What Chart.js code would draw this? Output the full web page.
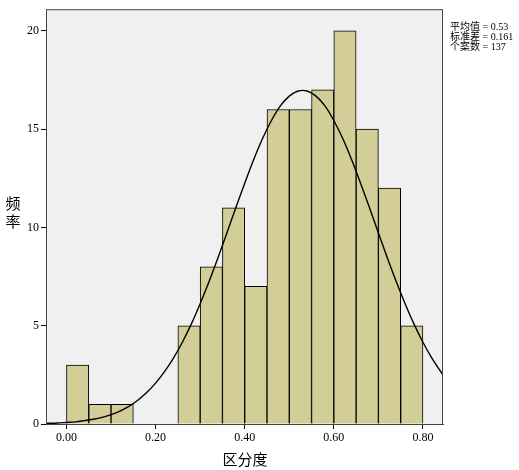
<!DOCTYPE html>
<html>
<head>
<meta charset="utf-8">
<script src="https://cdn.jsdelivr.net/npm/chart.js@4"></script>
<style>
  html, body { margin: 0; padding: 0; background: #fff; }
  #wrap { width: 519px; height: 470px; position: relative; }
</style>
</head>
<body>
<div id="wrap"><canvas id="hist"></canvas></div>
<script>
// bin centres (width 0.05) and counts
const binCenters = [0.025, 0.075, 0.125, 0.175, 0.225, 0.275, 0.325, 0.375, 0.425, 0.475, 0.525, 0.575, 0.625, 0.675, 0.725, 0.775];
const counts     = [3, 1, 1, 0, 0, 5, 8, 11, 7, 16, 16, 17, 20, 15, 12, 5];

// fitted normal curve
const curveX = [-0.046, -0.02, 0.00, 0.02, 0.04, 0.06, 0.08, 0.10, 0.12, 0.14, 0.16, 0.18, 0.20, 0.22, 0.24, 0.26, 0.28, 0.30,
                0.32, 0.34, 0.36, 0.38, 0.40, 0.42, 0.44, 0.46, 0.48, 0.50, 0.52, 0.54, 0.56, 0.58, 0.60, 0.62, 0.64, 0.66,
                0.68, 0.70, 0.72, 0.74, 0.76, 0.78, 0.80, 0.82, 0.84, 0.845];
const curveY = [0.03, 0.05, 0.08, 0.11, 0.17, 0.24, 0.34, 0.48, 0.66, 0.90, 1.21, 1.60, 2.08, 2.66, 3.35, 4.16, 5.08, 6.12,
                7.25, 8.46, 9.72, 11.00, 12.25, 13.44, 14.52, 15.44, 16.18, 16.68, 16.94, 16.94, 16.68, 16.18, 15.44, 14.52, 13.44, 12.25,
                11.00, 9.72, 8.46, 7.25, 6.12, 5.08, 4.16, 3.35, 2.66, 2.50];

const xTicks = [0.0, 0.2, 0.4, 0.6, 0.8];
const yTicks = [0, 5, 10, 15, 20];
const statsText = ['平均值 = 0.53', '标准差 = 0.161', '个案数 = 137'];

const serif = '"Liberation Serif", "Noto Sans CJK SC", serif';
const barFill = '#D3CE97';
const plotBg  = '#F0F0F0';

const frame = {
  id: 'frame',
  beforeDraw(chart) {
    const { ctx, chartArea: a } = chart;
    ctx.save();
    ctx.fillStyle = plotBg;
    ctx.fillRect(a.left, a.top, a.right - a.left, a.bottom - a.top);
    ctx.restore();
  },
  afterDraw(chart) {
    const { ctx, chartArea: a } = chart;
    ctx.save();
    ctx.strokeStyle = '#444';
    ctx.lineWidth = 1;
    ctx.strokeRect(a.left + 0.5, a.top + 0.5, a.right - a.left - 1, a.bottom - a.top);
    // y title, stacked
    ctx.fillStyle = '#000';
    ctx.font = '15px "Noto Sans CJK SC", serif';
    ctx.textAlign = 'center';
    ctx.textBaseline = 'middle';
    ctx.fillText('频', 13, 203);
    ctx.fillText('率', 13, 221);
    // x title
    ctx.fillText('区分度', 245, 459);
    // stats
    ctx.font = '10px ' + serif;
    ctx.textAlign = 'left';
    statsText.forEach((t, i) => ctx.fillText(t, 450, 27 + i * 10));
    ctx.restore();
  }
};

new Chart(document.getElementById('hist'), {
  type: 'bar',
  data: {
    datasets: [
      {
        type: 'line',
        data: curveX.map((x, i) => ({ x, y: curveY[i] })),
        borderColor: '#000',
        borderWidth: 1.4,
        pointRadius: 0,
        tension: 0.3,
        fill: false,
        order: 0
      },
      {
        type: 'bar',
        data: binCenters.map((x, i) => ({ x, y: counts[i] })),
        backgroundColor: barFill,
        borderColor: '#000',
        borderWidth: 1,
        barPercentage: 1,
        categoryPercentage: 1,
        order: 1
      }
    ]
  },
  options: {
    responsive: true,
    maintainAspectRatio: false,
    animation: false,
    layout: { padding: { top: 2, right: 76, left: 0, bottom: 0 } },
    plugins: { legend: { display: false }, tooltip: { enabled: false } },
    scales: {
      x: {
        type: 'linear',
        offset: false,
        min: -0.046, max: 0.845,
        afterBuildTicks: s => { s.ticks = xTicks.map(v => ({ value: v })); },
        afterFit: s => { s.height = 46; },
        grid: { offset: false, drawOnChartArea: false, tickLength: 5, tickColor: '#000', color: '#000' },
        border: { color: '#444' },
        ticks: {
          color: '#000', padding: 2, maxRotation: 0,
          font: { family: serif, size: 12 },
          callback: v => v.toFixed(2)
        }
      },
      y: {
        min: 0, max: 21.1,
        afterBuildTicks: s => { s.ticks = yTicks.map(v => ({ value: v })); },
        afterFit: s => { s.width = 46; },
        grid: { drawOnChartArea: false, tickLength: 5, tickColor: '#000', color: '#000' },
        border: { color: '#444' },
        ticks: {
          color: '#000', padding: 2,
          font: { family: serif, size: 12 }
        }
      }
    }
  },
  plugins: [frame]
});
</script>
</body>
</html>
